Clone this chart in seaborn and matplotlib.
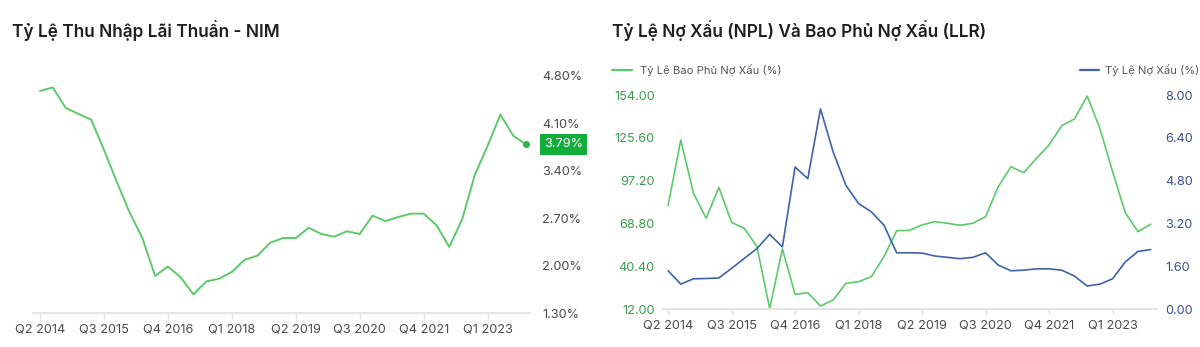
import matplotlib
matplotlib.use("Agg")
import matplotlib.pyplot as plt
import seaborn as sns
import pandas as pd
from matplotlib.ticker import FixedLocator, FuncFormatter

quarters = ["Q2 2014", "Q3 2014", "Q4 2014",
            "Q1 2015", "Q2 2015", "Q3 2015", "Q4 2015",
            "Q1 2016", "Q2 2016", "Q3 2016", "Q4 2016",
            "Q1 2017", "Q2 2017", "Q3 2017", "Q4 2017",
            "Q1 2018", "Q2 2018", "Q3 2018", "Q4 2018",
            "Q1 2019", "Q2 2019", "Q3 2019", "Q4 2019",
            "Q1 2020", "Q2 2020", "Q3 2020", "Q4 2020",
            "Q1 2021", "Q2 2021", "Q3 2021", "Q4 2021",
            "Q1 2022", "Q2 2022", "Q3 2022", "Q4 2022",
            "Q1 2023", "Q2 2023", "Q3 2023", "Q4 2023"]

nim = [4.58, 4.63, 4.33, 4.24, 4.155, 3.71, 3.24, 2.79, 2.41, 1.85,
       1.99, 1.83, 1.58, 1.77, 1.81, 1.91, 2.09, 2.15, 2.34, 2.41,
       2.41, 2.56, 2.47, 2.43, 2.51, 2.47, 2.74, 2.66, 2.72, 2.77,
       2.77, 2.60, 2.28, 2.68, 3.34, 3.77, 4.23, 3.92, 3.79]

llr = [80.7, 124.2, 88.9, 72.3, 92.8, 69.6, 65.7, 53.5, 12.5, 52.0,
       21.9, 23.0, 14.2, 18.2, 29.2, 30.3, 33.6, 46.9, 64.1, 64.3,
       67.9, 70.1, 69.0, 67.7, 69.0, 73.4, 93.3, 106.5, 102.5, 112.0,
       120.9, 133.7, 138.1, 153.3, 131.9, 103.2, 76.0, 63.5, 68.3]

npl = [1.44, 0.94, 1.14, 1.15, 1.17, 1.53, 1.90, 2.27, 2.80, 2.33,
       5.31, 4.88, 7.48, 5.87, 4.63, 3.95, 3.64, 3.14, 2.11, 2.11,
       2.10, 1.99, 1.94, 1.89, 1.94, 2.11, 1.65, 1.44, 1.46, 1.51,
       1.51, 1.46, 1.24, 0.87, 0.94, 1.14, 1.77, 2.16, 2.23]

nim_ticks = [1.30, 2.00, 2.70, 3.40, 4.10, 4.80]
llr_ticks = [12.00, 40.40, 68.80, 97.20, 125.60, 154.00]
npl_ticks = [0.00, 1.60, 3.20, 4.80, 6.40, 8.00]
xtick_idx = [0, 5, 10, 15, 20, 25, 30, 35]

title_nim = "Tỷ Lệ Thu Nhập Lãi Thuần - NIM"
title_npl = "Tỷ Lệ Nợ Xấu (NPL) Và Bao Phủ Nợ Xấu (LLR)"
label_llr = "Tỷ Lệ Bao Phủ Nợ Xấu (%)"
label_npl = "Tỷ Lệ Nợ Xấu (%)"

df = pd.DataFrame({"idx": range(len(quarters)), "quarter": quarters,
                   "nim": nim, "llr": llr, "npl": npl})

sns.set_theme(style="white")
plt.rcParams["font.family"] = ["Inter", "DejaVu Sans"]

GREEN = "#5cc96b"
BLUE = "#4062a6"
GREEN_TXT = "#3f9a52"
BLUE_TXT = "#3d4f8c"
GRAY_TXT = "#4a4a4a"
AXIS = "#e3e3e3"
TICK_FS = 9.2

fig = plt.figure(figsize=(12, 3.47), dpi=100)

# ---------- Left chart ----------
ax1 = fig.add_axes([0.0275, 0.0971, 0.414, 0.684])
sns.lineplot(data=df, x="idx", y="nim", ax=ax1, color=GREEN, linewidth=1.4)
ax1.plot([df["idx"].iloc[-1]], [nim[-1]], "o", color="#2fb54a", markersize=4)
ax1.set_xlim(-0.55, 38.3)
ax1.set_ylim(1.30, 4.80)
ax1.yaxis.tick_right()
ax1.yaxis.set_major_locator(FixedLocator(nim_ticks))
ax1.yaxis.set_major_formatter(FuncFormatter(lambda v, p: f"{v:.2f}%"))
ax1.xaxis.set_major_locator(FixedLocator(xtick_idx))
ax1.set_xticklabels([quarters[i] for i in xtick_idx])
ax1.set_xlabel("")
ax1.set_ylabel("")
for s in ["top", "left", "right"]:
    ax1.spines[s].set_visible(False)
ax1.spines["bottom"].set_color(AXIS)
ax1.tick_params(axis="x", colors=AXIS, labelcolor=GRAY_TXT, length=4, width=1,
                labelsize=TICK_FS, pad=3, bottom=True)
ax1.tick_params(axis="y", length=0, labelcolor=GRAY_TXT, labelsize=TICK_FS, pad=9, right=False)
ax1.annotate(f"{nim[-1]:.2f}%", xy=(1.0, nim[-1]), xycoords=("axes fraction", "data"),
             xytext=(10, 0), textcoords="offset points", ha="left", va="center",
             color="white", fontsize=TICK_FS,
             bbox=dict(boxstyle="square,pad=0.32", fc="#12ad3a", ec="none"))
fig.text(12 / 1200, 1 - 31 / 347, title_nim, fontsize=12.4, fontweight="semibold",
         color="#1f1f1f", ha="left", va="center")

# ---------- Right chart ----------
ax2 = fig.add_axes([0.5525, 0.1086, 0.4117, 0.6176])
sns.lineplot(data=df, x="idx", y="llr", ax=ax2, color=GREEN, linewidth=1.2)
ax3 = ax2.twinx()
sns.lineplot(data=df, x="idx", y="npl", ax=ax3, color=BLUE, linewidth=1.2)
ax2.set_xlim(-0.4, 38.5)
ax2.set_ylim(12, 154)
ax3.set_ylim(0, 8)
ax2.yaxis.set_major_locator(FixedLocator(llr_ticks))
ax2.yaxis.set_major_formatter(FuncFormatter(lambda v, p: f"{v:.2f}"))
ax3.yaxis.set_major_locator(FixedLocator(npl_ticks))
ax3.yaxis.set_major_formatter(FuncFormatter(lambda v, p: f"{v:.2f}"))
ax2.xaxis.set_major_locator(FixedLocator(xtick_idx))
ax2.set_xticklabels([quarters[i] for i in xtick_idx])
for a in (ax2, ax3):
    a.set_xlabel("")
    a.set_ylabel("")
    for s in ["top", "left", "right"]:
        a.spines[s].set_visible(False)
    a.spines["bottom"].set_color(AXIS)
ax2.tick_params(axis="x", colors=AXIS, labelcolor=GRAY_TXT, length=4, width=1,
                labelsize=TICK_FS, pad=3, bottom=True)
ax2.tick_params(axis="y", length=0, labelcolor=GREEN_TXT, labelsize=TICK_FS, pad=6)
ax3.tick_params(axis="y", length=0, labelcolor=BLUE_TXT, labelsize=TICK_FS, pad=6)
fig.text(612 / 1200, 1 - 31 / 347, title_npl, fontsize=12.4, fontweight="semibold",
         color="#1f1f1f", ha="left", va="center")

# legends
ly = 1 - 70 / 347
fig.add_artist(plt.Line2D([612 / 1200, 632 / 1200], [ly, ly], color=GREEN, linewidth=1.6))
fig.text(640 / 1200, ly, label_llr, fontsize=8.1, color="#555555", ha="left", va="center")
fig.add_artist(plt.Line2D([1080 / 1200, 1099 / 1200], [ly, ly], color=BLUE, linewidth=1.6))
fig.text(1105 / 1200, ly, label_npl, fontsize=8.1, color="#555555", ha="left", va="center")

fig.savefig("out.png", dpi=100, facecolor="white")
